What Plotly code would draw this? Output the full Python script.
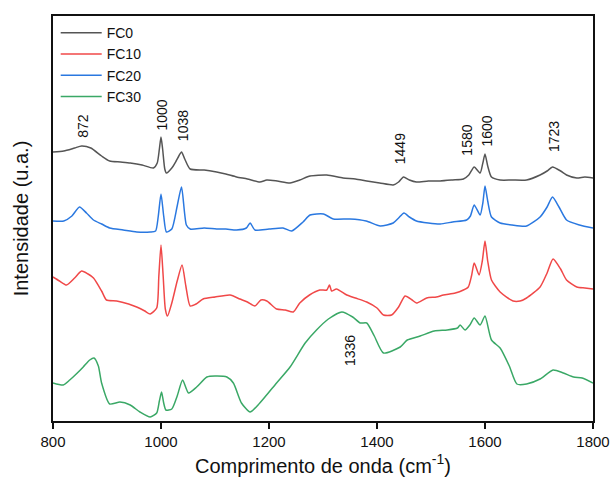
import plotly.graph_objects as go

# Raman shift (cm-1) and offset intensities (u.a.)
fc0_x = [800, 820, 840, 853, 870, 890, 905, 925, 943, 965, 986, 993, 997, 1000, 1003, 1007, 1010, 1020, 1028, 1033, 1038, 1044, 1054, 1080, 1103, 1120, 1140, 1160, 1183, 1196, 1215, 1239, 1257, 1276, 1307, 1337, 1360, 1381, 1405, 1430, 1440, 1449, 1460, 1473, 1495, 1517, 1540, 1560, 1570, 1580, 1591, 1596, 1600, 1605, 1612, 1628, 1650, 1677, 1702, 1715, 1725, 1740, 1751, 1770, 1785, 1800]
fc0_y = [269, 270, 273, 275, 273, 265, 260, 259, 258, 256, 253, 258, 272, 284, 272, 252, 248, 253, 260, 265, 269, 262, 252, 251, 249, 247, 244, 242, 239, 241, 240, 238, 241, 245, 246, 243, 242, 240, 238, 236, 239, 244, 241, 239, 240, 240, 241, 242, 246, 254, 248, 258, 267, 255, 244, 241, 241, 241, 246, 250, 254, 250, 246, 243, 244, 243]

fc10_x = [800, 812, 825, 840, 853, 865, 875, 890, 899, 918, 940, 955, 970, 980, 992, 996, 1000, 1004, 1008, 1012, 1020, 1030, 1039, 1046, 1054, 1065, 1078, 1100, 1128, 1146, 1160, 1174, 1185, 1196, 1214, 1230, 1245, 1257, 1275, 1294, 1307, 1312, 1316, 1325, 1344, 1360, 1381, 1400, 1412, 1427, 1440, 1452, 1465, 1473, 1492, 1510, 1523, 1545, 1560, 1569, 1575, 1580, 1589, 1595, 1600, 1605, 1612, 1628, 1652, 1665, 1677, 1702, 1715, 1726, 1740, 1751, 1770, 1785, 1800]
fc10_y = [144, 140, 136, 143, 150, 147, 143, 130, 121, 120, 117, 114, 110, 107, 113, 145, 176, 145, 112, 105, 118, 140, 156, 135, 115, 117, 122, 124, 126, 122, 119, 115, 121, 120, 112, 111, 109, 118, 126, 131, 131, 136, 130, 132, 126, 123, 119, 113, 106, 106, 114, 125, 121, 118, 123, 124, 126, 128, 131, 134, 145, 158, 146, 160, 180, 160, 141, 129, 120, 120, 123, 134, 148, 162, 152, 141, 134, 133, 132]

fc20_x = [800, 820, 835, 849, 862, 875, 890, 905, 930, 955, 980, 990, 995, 1000, 1005, 1010, 1020, 1030, 1038, 1047, 1054, 1080, 1103, 1120, 1140, 1158, 1165, 1174, 1200, 1226, 1242, 1263, 1276, 1301, 1319, 1350, 1380, 1406, 1430, 1440, 1450, 1460, 1473, 1495, 1517, 1540, 1566, 1573, 1580, 1591, 1596, 1600, 1605, 1612, 1628, 1650, 1677, 1702, 1715, 1725, 1737, 1751, 1775, 1800]
fc20_y = [200, 200, 205, 214, 208, 201, 197, 193, 191, 189, 189, 190, 205, 227, 205, 189, 192, 215, 234, 196, 192, 193, 192, 192, 191, 193, 198, 191, 192, 193, 190, 199, 206, 207, 202, 202, 200, 195, 198, 203, 208, 204, 200, 198, 197, 199, 201, 205, 216, 206, 218, 235, 220, 204, 198, 196, 195, 204, 214, 224, 214, 201, 196, 193]

fc30_x = [800, 819, 831, 845, 856, 868, 876, 884, 890, 905, 924, 943, 961, 980, 992, 997, 1001, 1005, 1009, 1020, 1030, 1040, 1051, 1066, 1085, 1100, 1122, 1134, 1149, 1165, 1183, 1214, 1239, 1267, 1288, 1310, 1335, 1355, 1369, 1381, 1395, 1412, 1443, 1456, 1480, 1506, 1530, 1549, 1554, 1563, 1572, 1580, 1591, 1600, 1612, 1628, 1645, 1659, 1677, 1702, 1726, 1745, 1764, 1780, 1800]
fc30_y = [38, 36, 41, 48, 54, 61, 63, 55, 38, 17, 19, 16, 9, 4, 8, 20, 29, 18, 11, 12, 25, 41, 28, 34, 44, 45, 44, 38, 18, 9, 18, 38, 54, 78, 91, 102, 109, 104, 98, 98, 85, 68, 74, 81, 85, 90, 91, 93, 96, 91, 96, 103, 96, 105, 81, 73, 55, 37, 37, 42, 51, 48, 44, 43, 38]

series_names = ["FC0", "FC10", "FC20", "FC30"]
series_colors = ["#555555", "#f04848", "#2a78e0", "#3aa866"]

peak_labels = ["872", "1000", "1038", "1449", "1580", "1600", "1723", "1336"]
peak_x = [855, 1001, 1041, 1443, 1566, 1603, 1728, 1350]
peak_y = [295, 306, 295, 272, 281, 290, 284, 70]

x_ticks = [800, 1000, 1200, 1400, 1600, 1800]

fig = go.Figure()
data = [(fc0_x, fc0_y), (fc10_x, fc10_y), (fc20_x, fc20_y), (fc30_x, fc30_y)]
for (xs, ys), name, col in zip(data, series_names, series_colors):
    fig.add_trace(go.Scatter(x=xs, y=ys, mode="lines", name=name,
                             line=dict(color=col, width=1.5, shape="spline", smoothing=0.6)))

for t, xv, yv in zip(peak_labels, peak_x, peak_y):
    fig.add_annotation(x=xv, y=yv, xref="x", yref="y", text=t, textangle=-90,
                       showarrow=False, font=dict(size=14, color="#111111"))

font_family = "Liberation Sans, Arial, sans-serif"
fig.update_layout(
    width=614, height=482,
    margin=dict(l=53, r=21, t=16, b=61),
    paper_bgcolor="white", plot_bgcolor="white",
    font=dict(family=font_family, color="#111111"),
    showlegend=True,
    legend=dict(x=0.005, y=0.997, xanchor="left", yanchor="top",
                bgcolor="rgba(0,0,0,0)", font=dict(size=14), tracegroupgap=0,
                itemwidth=41),
    xaxis=dict(range=[800, 1800], tickvals=x_ticks, ticks="outside", ticklen=6,
               tickwidth=1.5, tickcolor="#111111", showline=True, linecolor="#111111",
               linewidth=1.5, mirror=True, showgrid=False, zeroline=False,
               tickfont=dict(size=15), automargin=False,
               title=dict(text="Comprimento de onda (cm<sup>-1</sup>)", font=dict(size=20), standoff=10)),
    yaxis=dict(range=[0, 405], showticklabels=False, ticks="", showline=True,
               linecolor="#111111", linewidth=1.5, mirror=True, showgrid=False,
               zeroline=False, automargin=False,
               title=dict(text="Intensidade (u.a.)", font=dict(size=20), standoff=17)),
)

fig.write_html("out.html")
